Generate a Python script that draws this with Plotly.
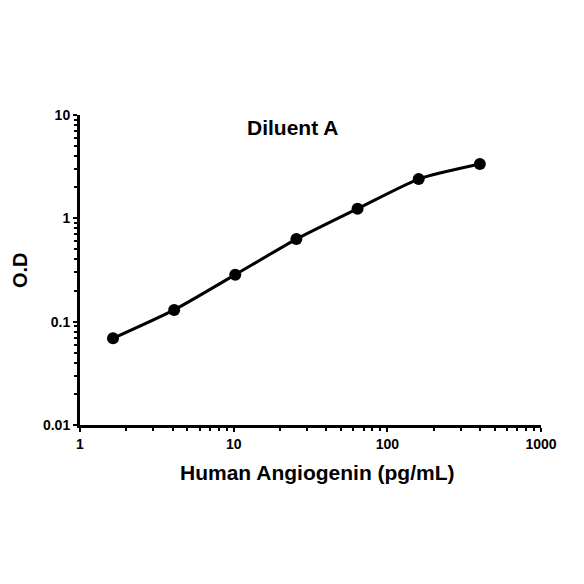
import plotly.graph_objects as go

# standard curve, Diluent A
conc = [1.64, 4.1, 10.24, 25.6, 64, 160, 400]
od = [0.069, 0.130, 0.285, 0.63, 1.24, 2.4, 3.35]

font_family = "Liberation Sans, Arial, sans-serif"

fig = go.Figure()

fig.add_trace(go.Scatter(
    x=conc,
    y=od,
    mode='lines+markers',
    line=dict(color='black', width=3, shape='spline', smoothing=0.6),
    marker=dict(color='black', size=12),
    showlegend=False
))

# titles placed as annotations so the plot area stays fixed
fig.add_annotation(text="<b>Diluent A</b>", xref="paper", yref="paper",
                   x=0.462, y=0.961, showarrow=False,
                   xanchor='center', yanchor='middle',
                   font=dict(size=21, color='black', family=font_family))
fig.add_annotation(text="<b>Human Angiogenin (pg/mL)</b>", xref="paper", yref="paper",
                   x=0.515, y=-0.152, showarrow=False,
                   xanchor='center', yanchor='middle',
                   font=dict(size=21, color='black', family=font_family))
fig.add_annotation(text="<b>O.D</b>", xref="paper", yref="paper",
                   x=-0.13, y=0.5, textangle=-90, showarrow=False,
                   xanchor='center', yanchor='middle',
                   font=dict(size=20, color='black', family=font_family))

axis_style = dict(
    type='log',
    showline=True,
    linecolor='black',
    linewidth=3,
    ticks='outside',
    ticklen=4,
    tickwidth=2,
    tickcolor='black',
    showgrid=False,
    zeroline=False,
    automargin=False,
    tickfont=dict(size=14, color='black', family=font_family),
    minor=dict(ticks='outside', ticklen=3, tickwidth=2, tickcolor='black',
               dtick='D1', showgrid=False),
)

fig.update_xaxes(
    **axis_style,
    range=[0, 3],
    tickvals=[1, 10, 100, 1000],
    ticktext=['<b>1</b>', '<b>10</b>', '<b>100</b>', '<b>1000</b>'],
)
fig.update_yaxes(
    **axis_style,
    range=[-2, 1],
    tickvals=[0.01, 0.1, 1, 10],
    ticktext=['<b>0.01</b>', '<b>0.1</b>', '<b>1</b>', '<b>10</b>'],
)

# page body has an 8px margin, so the figure is 576 wide and offset
fig.update_layout(
    width=576,
    height=576,
    margin=dict(l=72, r=43, t=107, b=159),
    plot_bgcolor='white',
    paper_bgcolor='white',
)

fig.write_html("out.html")
